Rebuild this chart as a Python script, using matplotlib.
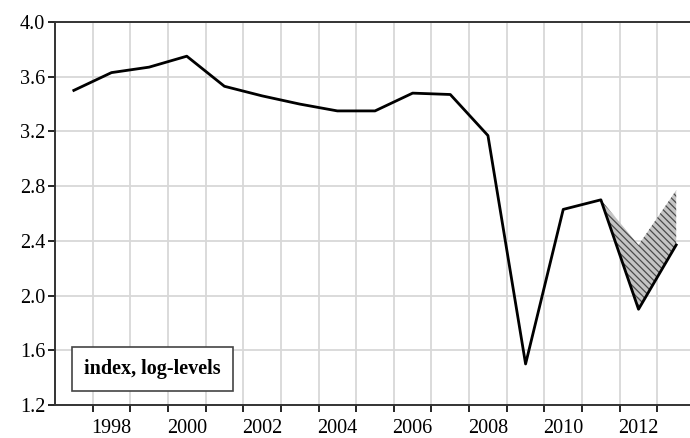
import numpy as np
import matplotlib.pyplot as plt

plt.rcParams['font.family'] = ['Liberation Serif', 'DejaVu Serif']

# annual data, log-levels
years = [1997, 1998, 1999, 2000, 2001, 2002, 2003, 2004, 2005,
         2006, 2007, 2008, 2009, 2010, 2011, 2012, 2013]
index = [3.50, 3.63, 3.67, 3.75, 3.53, 3.46, 3.40, 3.35, 3.35,
         3.48, 3.47, 3.17, 1.50, 2.63, 2.70, 1.90, 2.37]

# shaded band (upper edge) for the last years
band_years = [2011, 2012, 2013]
band_lower = [2.70, 1.90, 2.37]
band_upper = [2.70, 2.37, 2.77]

tick_years = list(range(1998, 2014))
label_years = [1998, 2000, 2002, 2004, 2006, 2008, 2010, 2012]
yticks = [1.2, 1.6, 2.0, 2.4, 2.8, 3.2, 3.6, 4.0]

fig = plt.figure(figsize=(6.9, 4.38), dpi=100)
ax = fig.add_axes([55 / 690, 1 - 405 / 438, 640 / 690, 383 / 438])

# data plotted at the middle of each year
x = np.array(years) + 0.5
xb = np.array(band_years) + 0.5

plt.rcParams['hatch.color'] = '#4a4a4a'
plt.rcParams['hatch.linewidth'] = 0.9
ax.fill_between(xb, band_lower, band_upper, facecolor='#c4c4c4',
                edgecolor='#4a4a4a', hatch='\\\\\\\\\\', linewidth=0, zorder=2)
ax.plot(x, index, color='black', linewidth=2.0, zorder=3)

ax.set_xlim(1997, 2014)
ax.set_ylim(1.2, 4.0)

ax.set_xticks(tick_years)
ax.set_xticklabels([])
ax.set_xticks(np.array(label_years) + 0.5, minor=True)
ax.set_xticklabels([str(y) for y in label_years], minor=True)
ax.tick_params(axis='x', which='major', direction='out', length=5, width=1.2)
ax.tick_params(axis='x', which='minor', length=0, labelsize=14.5, pad=10)

ax.set_yticks(yticks)
ax.set_yticklabels(['%.1f' % v for v in yticks])
ax.tick_params(axis='y', direction='out', length=5, width=1.2, labelsize=14.5, pad=2)

ax.grid(True, which='major', color='#d8d8d8', linewidth=1.3, zorder=0)
ax.set_axisbelow(True)

for s in ['top', 'bottom', 'left']:
    ax.spines[s].set_linewidth(1.4)
    ax.spines[s].set_color('#333333')
ax.spines['right'].set_visible(False)

ax.text(0.045, 0.094, 'index, log-levels', transform=ax.transAxes,
        fontsize=14.5, fontweight='bold', va='center', ha='left',
        bbox=dict(boxstyle='square,pad=0.6', facecolor='white',
                  edgecolor='#444444', linewidth=1.2), zorder=5)

fig.savefig('out.png', dpi=100)
